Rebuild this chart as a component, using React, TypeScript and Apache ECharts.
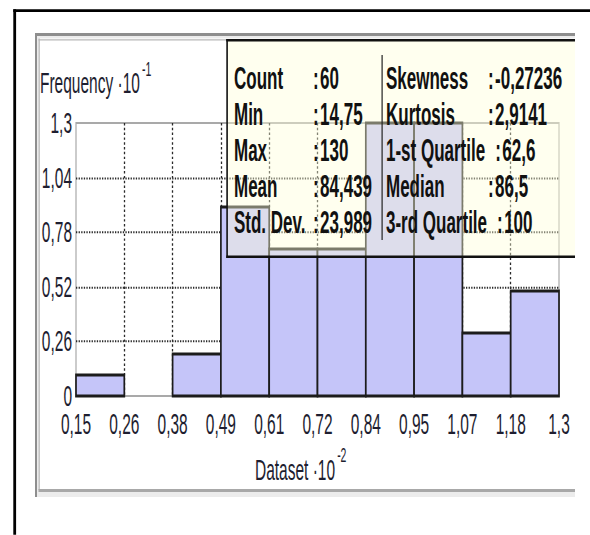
import React, { useEffect, useRef } from 'react';
import * as echarts from 'echarts';

// Histogram of the dataset: bin edges (×10^-2) and frequencies (×10^-1)
const xTickLabels = ['0,15', '0,26', '0,38', '0,49', '0,61', '0,72', '0,84', '0,95', '1,07', '1,18', '1,3'];
const yTickLabels = ['0', '0,26', '0,52', '0,78', '1,04', '1,3'];
const frequencies = [0.1, 0, 0.2, 0.9, 0.7, 0.7, 1.3, 1.3, 0.3, 0.5];

// Descriptive statistics panel
const statLabelsLeft = ['Count', 'Min', 'Max', 'Mean', 'Std. Dev.'];
const statValuesLeft = ['60', '14,75', '130', '84,439', '23,989'];
const statLabelsRight = ['Skewness', 'Kurtosis', '1-st Quartile', 'Median', '3-rd Quartile'];
const statValuesRight = ['-0,27236', '2,9141', '62,6', '86,5', '100'];

const W = 590;
const H = 535;
const K = 1.85; // the chart is drawn flat and stretched vertically by this factor
const CH = H / K;
const Y = (py: number) => py / K;

const FONT = '"Liberation Sans", Arial, sans-serif';
const TEXT = '#1e1e30';

function measure(text: string, font: string): number {
  const ctx = document.createElement('canvas').getContext('2d');
  if (!ctx) return text.length * 8;
  ctx.font = font;
  return ctx.measureText(text).width;
}

function txt(x: number, y: number, text: string, size: number, bold: boolean, align = 'left', z = 110) {
  return {
    type: 'text',
    x,
    y,
    z,
    style: {
      text,
      fontFamily: FONT,
      fontSize: size,
      fontWeight: bold ? 'bold' : 'normal',
      fill: bold ? '#111' : TEXT,
      align,
      textAlign: align,
      verticalAlign: 'middle',
      textVerticalAlign: 'middle',
    },
  };
}

function box(x: number, y: number, w: number, h: number, fill: string, z = -10) {
  return { type: 'rect', z, shape: { x, y, width: w, height: h }, style: { fill } };
}

export default function App() {
  const ref = useRef<HTMLDivElement>(null);

  useEffect(() => {
    document.body.style.margin = '0';
    document.body.style.overflow = 'hidden';
    const chart = echarts.init(ref.current!, null, { renderer: 'svg', width: W, height: CH });

    const statSize = 17;
    const statFont = `bold ${statSize}px "Liberation Sans"`;
    const axisSize = 15.5;
    const axisFont = `${axisSize}px "Liberation Sans"`;

    const rowTop = 78;
    const rowStep = 36;
    const leftLabelX = 234;
    const leftColonX = 313;
    const rightLabelX = 386;
    const rightColonX = 488;

    const statTexts: any[] = [];
    statLabelsLeft.forEach((label, i) => {
      const y = Y(rowTop + i * rowStep);
      statTexts.push(txt(leftLabelX, y, label, statSize, true));
      statTexts.push(txt(leftColonX, y, ':\u200A' + statValuesLeft[i], statSize, true));
    });
    statLabelsRight.forEach((label, i) => {
      const y = Y(rowTop + i * rowStep);
      const cx = Math.max(rightColonX, rightLabelX + measure(label, statFont) + 10);
      statTexts.push(txt(rightLabelX, y, label, statSize, true));
      statTexts.push(txt(cx, y, ':\u200A' + statValuesRight[i], statSize, true));
    });

    const yTitle = 'Frequency ·10';
    const xTitle = 'Dataset ·10';
    const yTitleX = 40;
    const xTitleX = 255;

    const boxTop = Y(39);
    const boxBottom = Y(258);

    const option: any = {
      animation: false,
      backgroundColor: '#fff',
      grid: {
        left: 76,
        right: W - 559,
        top: Y(123),
        bottom: CH - Y(396),
        show: true,
        borderColor: '#a9a9a9',
        borderWidth: 1.2,
        backgroundColor: 'transparent',
      },
      xAxis: {
        type: 'value',
        min: 0,
        max: 10,
        interval: 1,
        axisLine: { show: false },
        axisTick: { show: false },
        axisLabel: {
          showMinLabel: true,
          showMaxLabel: true,
          margin: 7,
          fontFamily: FONT,
          fontSize: axisSize,
          color: TEXT,
          formatter: (v: number) => xTickLabels[Math.round(v)] ?? '',
        },
        splitLine: {
          show: true,
          showMinLine: false,
          showMaxLine: false,
          lineStyle: { color: '#2a2a2a', width: 1.3, type: [1.3, 1.3] },
        },
      },
      yAxis: {
        type: 'value',
        min: 0,
        max: 1.3,
        interval: 0.26,
        axisLine: { show: false },
        axisTick: { show: false },
        axisLabel: {
          showMinLabel: true,
          showMaxLabel: true,
          margin: 4,
          fontFamily: FONT,
          fontSize: axisSize,
          color: TEXT,
          formatter: (v: number) => yTickLabels[Math.round(v / 0.26)] ?? '',
        },
        splitLine: {
          show: true,
          showMinLine: false,
          showMaxLine: false,
          lineStyle: { color: '#2a2a2a', width: 1.1, type: [1.3, 1.3] },
        },
      },
      series: [
        {
          type: 'custom',
          data: frequencies.map((f, i) => [i, i + 1, f]),
          encode: { x: [0, 1], y: 2 },
          renderItem: (_params: any, api: any) => {
            const x0 = api.value(0);
            const x1 = api.value(1);
            const f = api.value(2);
            if (!(f > 0)) return { type: 'group', children: [] };
            const p0 = api.coord([x0, 0]);
            const p1 = api.coord([x1, f]);
            return {
              type: 'rect',
              shape: { x: p0[0], y: p1[1], width: p1[0] - p0[0], height: p0[1] - p1[1] },
              style: { fill: '#c5c5f9', stroke: '#1c1c1c', lineWidth: 1.7 },
            };
          },
        },
      ],
      graphic: {
        elements: [
          // outer frame
          box(13.3, Y(9.3), 2.8, CH, '#000', -5),
          box(13.3, Y(9.3), 600, Y(2.8), '#000', -5),
          // sunken panel
          box(35, Y(33), 540, Y(497) - Y(33), '#ececec'),
          box(35, Y(33), 540, Y(3), '#8e8e8e', -9),
          box(35, Y(33), 2, Y(464), '#8e8e8e', -9),
          box(38.5, Y(38.5), 575 - 38.5, Y(490) - Y(38.5), '#ffffff', -8),
          box(38.5, Y(39.2), 575 - 38.5, Y(1.3), '#b8b8b8', -7),
          box(38.5, Y(38.5), 1.3, Y(490) - Y(38.5), '#b8b8b8', -7),
          box(38.5, Y(489), 575 - 38.5, Y(3), '#a8a8a8', -7),
          // axis titles
          txt(yTitleX, Y(83.5), yTitle, axisSize, false),
          txt(yTitleX + measure(yTitle, axisFont) + 2, Y(69), '-1', 10.5, false),
          txt(xTitleX, Y(470), xTitle, axisSize, false),
          txt(xTitleX + measure(xTitle, axisFont) + 2, Y(455), '-2', 10.5, false),
          // statistics panel
          {
            type: 'rect',
            z: 100,
            shape: { x: 227, y: boxTop, width: 575 - 227, height: boxBottom - boxTop },
            style: { fill: 'rgba(255,255,218,0.42)' },
          },
          box(226.3, boxTop, 575 - 226.3, Y(2.6), '#111', 101),
          box(226.3, boxTop, 1.6, boxBottom - boxTop, '#111', 101),
          box(226.3, boxBottom - Y(2.6), 575 - 226.3, Y(2.6), '#111', 101),
          box(381.5, Y(55), 1.2, Y(240) - Y(55), '#222', 101),
          ...statTexts,
        ],
      },
    };

    chart.setOption(option);
    return () => chart.dispose();
  }, []);

  return (
    <div style={{ width: W, height: H, overflow: 'hidden', position: 'relative', background: '#fff' }}>
      <div
        ref={ref}
        style={{ width: W, height: CH, transform: `scaleY(${K})`, transformOrigin: '0 0' }}
      />
    </div>
  );
}
